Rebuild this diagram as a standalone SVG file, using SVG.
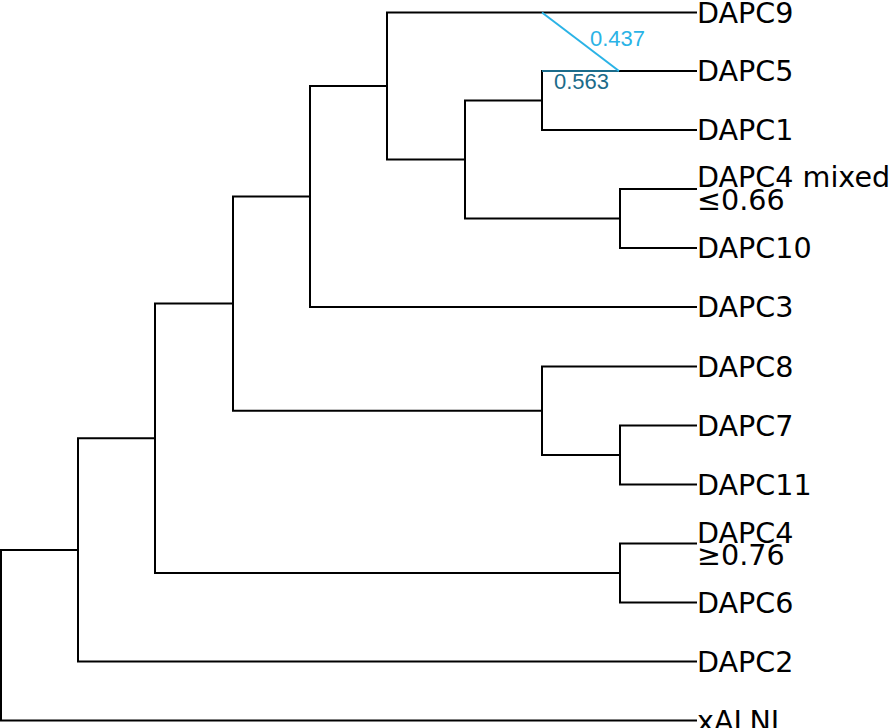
<svg xmlns="http://www.w3.org/2000/svg" width="896" height="728" viewBox="0 0 896 728">
<style>
.e{fill:none;stroke:#000;stroke-width:2;stroke-linecap:square}
.lbl{font-family:"DejaVu Sans",Verdana,sans-serif;font-size:28.6px;fill:#000}
.gp{font-family:"Liberation Sans",Arial,sans-serif;font-size:22px}
</style>
<rect width="896" height="728" fill="#fff"/>
<g id="connectors">
<path class="e" d="M1 550 V720.5 M1 550 H78 M1 720.5 H696"/>
<path class="e" d="M78 438.3 V661.5 M78 438.3 H155 M78 661.5 H696"/>
<path class="e" d="M155 303.6 V573 M155 303.6 H233 M155 573 H620"/>
<path class="e" d="M620 543.5 V602.5 M620 543.5 H696 M620 602.5 H696"/>
<path class="e" d="M233 196.5 V410.8 M233 196.5 H310 M233 410.8 H542"/>
<path class="e" d="M542 366.5 V455 M542 366.5 H696 M542 455 H620"/>
<path class="e" d="M620 425.5 V484.5 M620 425.5 H696 M620 484.5 H696"/>
<path class="e" d="M310 86 V307 M310 86 H387 M310 307 H696"/>
<path class="e" d="M387 12.5 V159.5 M387 12.5 H696 M387 159.5 H465"/>
<path class="e" d="M465 100.5 V218.5 M465 100.5 H542 M465 218.5 H620"/>
<path class="e" d="M620 189 V248 M620 189 H696 M620 248 H696"/>
<path class="e" d="M542 71 V130 M542 130 H696 M619 71 H696"/>
<path d="M542 71 H619" fill="none" stroke="#1b6b8a" stroke-width="2"/>
<path d="M542 12.5 L619 71" fill="none" stroke="#2ab3e6" stroke-width="2"/>
<text class="gp" x="590" y="46" fill="#2ab3e6">0.437</text>
<text class="gp" x="554" y="89" fill="#1b6b8a">0.563</text>
</g>
<g id="DAPC9"><text class="lbl" x="697" y="22.5">DAPC9</text></g>
<g id="DAPC5"><text class="lbl" x="697" y="81">DAPC5</text></g>
<g id="DAPC1"><text class="lbl" x="697" y="140">DAPC1</text></g>
<g id="DAPC4mixed"><text class="lbl" x="697" y="187">DAPC4 mixed</text><text class="lbl" x="697" y="210">≤0.66</text></g>
<g id="DAPC10"><text class="lbl" x="697" y="258">DAPC10</text></g>
<g id="DAPC3"><text class="lbl" x="697" y="317">DAPC3</text></g>
<g id="DAPC8"><text class="lbl" x="697" y="376.5">DAPC8</text></g>
<g id="DAPC7"><text class="lbl" x="697" y="435.5">DAPC7</text></g>
<g id="DAPC11"><text class="lbl" x="697" y="494.5">DAPC11</text></g>
<g id="DAPC4ge"><text class="lbl" x="697" y="542.5">DAPC4</text><text class="lbl" x="697" y="565">≥0.76</text></g>
<g id="DAPC6"><text class="lbl" x="697" y="612.5">DAPC6</text></g>
<g id="DAPC2"><text class="lbl" x="697" y="671.5">DAPC2</text></g>
<g id="xALNI"><text class="lbl" x="697" y="730.5">xALNI</text></g>
</svg>
